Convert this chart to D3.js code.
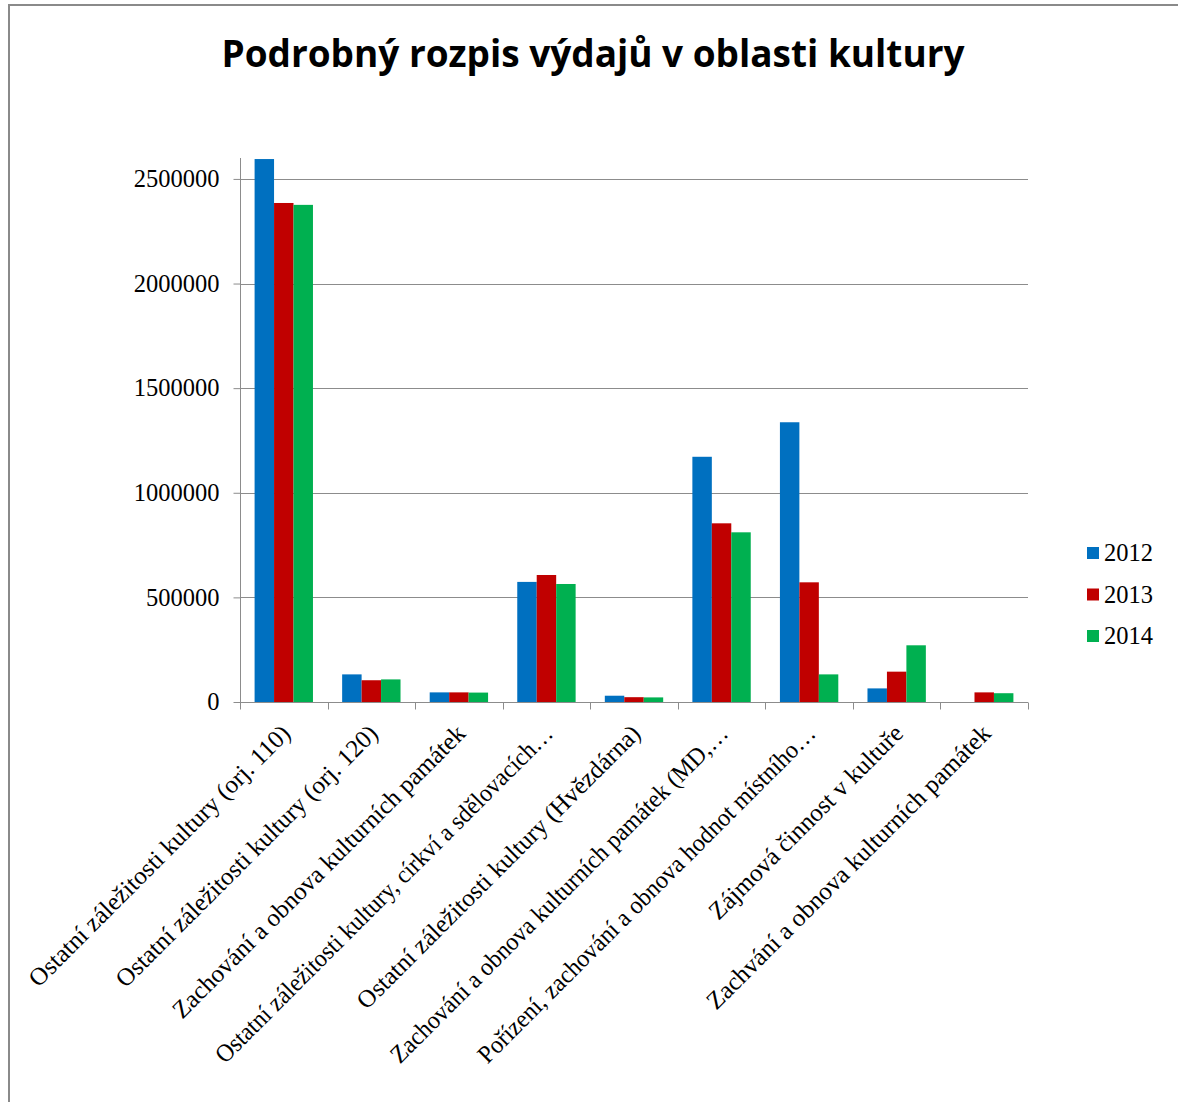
<!DOCTYPE html>
<html>
<head>
<meta charset="utf-8">
<script src="https://cdn.jsdelivr.net/npm/d3@7"></script>
<style>
  body { margin: 0; background: #fff; }
  svg { display: block; }
</style>
</head>
<body>
<svg id="chart" width="1178" height="1102"></svg>
<script>
// categories as they appear on the axis (truncated ones keep the ellipsis)
var categories = [
  "Ostatní záležitosti kultury (orj. 110)",
  "Ostatní záležitosti kultury (orj. 120)",
  "Zachování a obnova kulturních památek",
  "Ostatní záležitosti kultury, církví a sdělovacích…",
  "Ostatní záležitosti kultury (Hvězdárna)",
  "Zachování a obnova kulturních památek (MD,…",
  "Pořízení, zachování a obnova hodnot místního…",
  "Zájmová činnost v kultuře",
  "Zachvání a obnova kulturních památek"
];
var years = ["2012", "2013", "2014"];
var values2012 = [2595000, 132000, 46000, 574000, 30000, 1172000, 1337000, 65000, 0];
var values2013 = [2385000, 104000, 46000, 607000, 23000, 854000, 572000, 145000, 46000];
var values2014 = [2376000, 108000, 45000, 564000, 22000, 811000, 132000, 271000, 42000];
var yTicks = [0, 500000, 1000000, 1500000, 2000000, 2500000];
var colors = ["#0070C0", "#C00000", "#00B050"];

var series = [values2012, values2013, values2014];

var svg = d3.select("#chart");

// outer frame (only top and left edges are visible in the original)
svg.append("path")
  .attr("d", "M9,1102V5H1178")
  .attr("fill", "none")
  .attr("stroke", "#8a8a8a")
  .attr("stroke-width", 2);

// title
svg.append("text")
  .attr("x", 593)
  .attr("y", 67)
  .attr("text-anchor", "middle")
  .attr("textLength", 743)
  .attr("lengthAdjust", "spacingAndGlyphs")
  .style("font-family", "'Liberation Sans Narrow', 'Open Sans', Calibri, sans-serif")
  .style("font-weight", "bold")
  .style("font-size", "38px")
  .text("Podrobný rozpis výdajů v oblasti kultury");

// plot box (don't call these top/left, window.top is read only)
var plotL = 240, plotR = 1028, plotT = 158, plotB = 702;

var x = d3.scaleBand()
  .domain(categories)
  .range([plotL, plotR])
  .padding(0);

var xSub = d3.scaleBand()
  .domain(years)
  .range([0, x.bandwidth()])
  .paddingInner(0)
  .paddingOuter(0.75); // excel gap width 150%

var y = d3.scaleLinear()
  .domain([0, 2600000])
  .range([plotB, plotT]);

// gridlines
svg.append("g").selectAll("line")
  .data(yTicks)
  .enter().append("line")
  .attr("x1", plotL)
  .attr("x2", plotR)
  .attr("y1", function(d){ return Math.round(y(d)) + 0.5; })
  .attr("y2", function(d){ return Math.round(y(d)) + 0.5; })
  .attr("stroke", "#8c8c8c")
  .attr("stroke-width", 1);

// y axis
var yAxis = d3.axisLeft(y)
  .tickValues(yTicks)
  .tickSize(7)
  .tickPadding(14)
  .tickFormat(d3.format("d"));
var gy = svg.append("g")
  .attr("transform", "translate(" + (plotL + 0.5) + ",0)")
  .call(yAxis);
gy.select(".domain").attr("stroke", "#8c8c8c").attr("d", "M0," + plotT + "V" + plotB);
gy.selectAll(".tick line").attr("stroke", "#8c8c8c");
gy.selectAll(".tick text")
  .style("font-family", "'Liberation Serif', 'Times New Roman', serif")
  .style("font-size", "24.5px")
  .attr("fill", "#000");

// bars
var groups = svg.append("g").selectAll("g")
  .data(series)
  .enter().append("g")
  .attr("fill", function(d, i){ return colors[i]; });

groups.selectAll("rect")
  .data(function(d, i){
    return d.map(function(v, j){ return {cat: categories[j], year: years[i], value: v}; });
  })
  .enter().append("rect")
  .attr("x", function(d){ return x(d.cat) + xSub(d.year); })
  .attr("width", xSub.bandwidth())
  .attr("y", function(d){ return y(d.value); })
  .attr("height", function(d){ return plotB - y(d.value); });

// x axis
var xAxis = d3.axisBottom(x).tickSize(0).tickFormat("");
var gx = svg.append("g")
  .attr("transform", "translate(0," + (plotB + 0.5) + ")")
  .call(xAxis);
gx.select(".domain").attr("stroke", "#8c8c8c").attr("d", "M" + plotL + ",0H" + plotR);

// tick marks sit on the band boundaries
var boundaries = categories.map(function(c){ return x(c); }).concat([plotR]);
gx.selectAll(".bound")
  .data(boundaries)
  .enter().append("line")
  .attr("class", "bound")
  .attr("x1", function(d){ return Math.round(d) + 0.5; })
  .attr("x2", function(d){ return Math.round(d) + 0.5; })
  .attr("y1", 0)
  .attr("y2", 7)
  .attr("stroke", "#8c8c8c");

// rotated category labels, top right corner near the band centre
var maxLabel = 466; // excel cuts long labels at about this length
svg.append("g").selectAll("text")
  .data(categories)
  .enter().append("text")
  .attr("transform", function(d){
    var cx = x(d) + x.bandwidth() / 2 + 8;
    return "translate(" + cx + "," + (plotB + 33) + ") rotate(-45)";
  })
  .attr("text-anchor", "end")
  .style("font-family", "'Liberation Serif', 'Times New Roman', serif")
  .style("font-size", "25px")
  .attr("fill", "#000")
  .text(function(d){ return d; })
  .each(function(){
    if (this.getComputedTextLength() > maxLabel) {
      d3.select(this).attr("textLength", maxLabel).attr("lengthAdjust", "spacingAndGlyphs");
    }
  });

// legend
var legend = svg.append("g").selectAll("g")
  .data(years)
  .enter().append("g")
  .attr("transform", function(d, i){ return "translate(1087," + (553 + i * 41.5) + ")"; });
legend.append("rect")
  .attr("x", 0)
  .attr("y", -6)
  .attr("width", 12)
  .attr("height", 12)
  .attr("fill", function(d, i){ return colors[i]; });
legend.append("text")
  .attr("x", 17)
  .attr("dy", "0.34em")
  .style("font-family", "'Liberation Serif', 'Times New Roman', serif")
  .style("font-size", "24.5px")
  .text(function(d){ return d; });
</script>
</body>
</html>
